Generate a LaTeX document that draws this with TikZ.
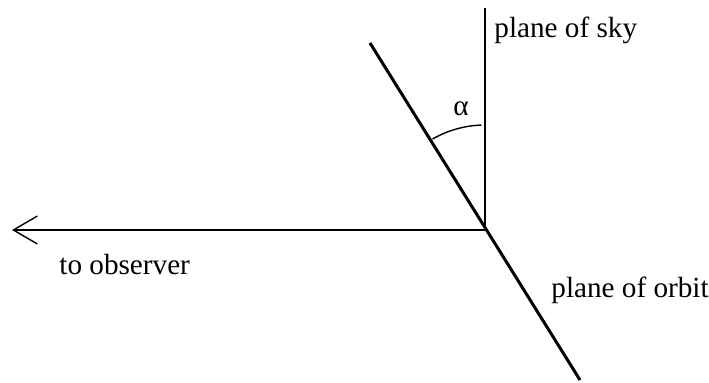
\documentclass[tikz,border=0pt]{standalone}
\usepackage{fontspec}
\setmainfont{Liberation Serif}
\usetikzlibrary{arrows.meta}

\begin{document}
\begin{tikzpicture}[x=0.5pt, y=0.5pt,
    label text/.style={font=\fontsize{14.6}{17}\selectfont, inner sep=0pt}]

    \useasboundingbox (0,0) rectangle (709,382);

    % Points
    \coordinate (vertex) at (485,152);
    \coordinate (skytop) at (485,374);
    \coordinate (observer) at (12,152);
    \coordinate (orbittop) at (370,339);
    \coordinate (orbitbot) at (580,2);

    % Plane of sky
    \draw[line width=0.7pt] (vertex) -- (skytop);

    % Line of sight
    \draw[-{Straight Barb[length=12pt, width=14pt, line width=0.7pt]}, line width=0.7pt]
        (vertex) -- (observer);

    % Plane of orbit
    \draw[line width=1.5pt] (orbittop) -- (orbitbot);

    % Angle
    \draw[line width=0.7pt] ([shift={(92:105)}]vertex) arc[start angle=92, end angle=120, radius=105];

    % Labels
    \node[label text, anchor=west] (skylabel) at (494,352) {plane of sky};
    \node[label text] (alphalabel) at (461,273) {α};
    \node[label text, anchor=west] (observerlabel) at (59,117) {to observer};
    \node[label text, anchor=west] (orbitlabel) at (551,92) {plane of orbit};

\end{tikzpicture}
\end{document}
